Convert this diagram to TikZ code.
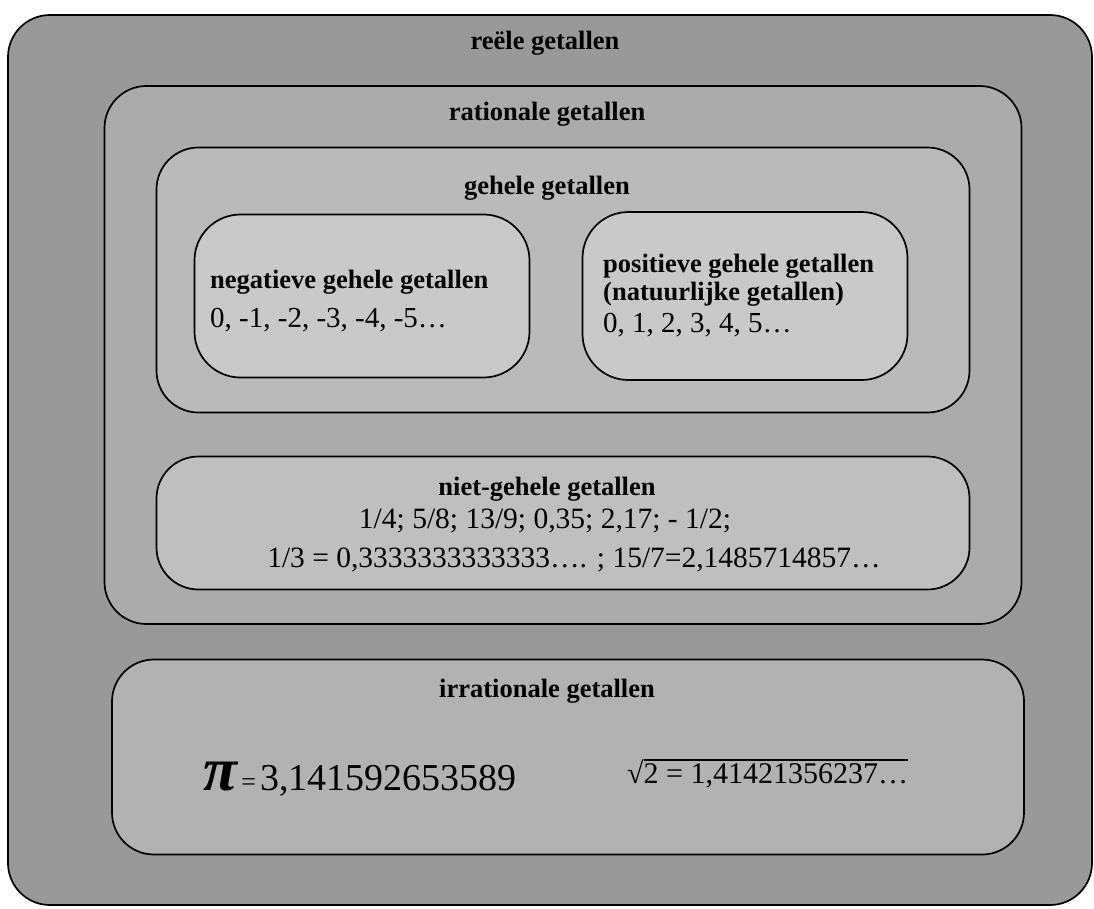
\documentclass[tikz,border=0pt]{standalone}
\usepackage{fontspec}
\setmainfont{Liberation Serif}
\usetikzlibrary{calc,positioning}

\definecolor{reeelgrijs}{gray}{0.60}
\definecolor{ratgrijs}{gray}{0.67}
\definecolor{geheelgrijs}{gray}{0.73}
\definecolor{binnengrijs}{gray}{0.79}
\definecolor{nietgrijs}{gray}{0.75}
\definecolor{irrgrijs}{gray}{0.70}

\begin{document}
\begin{tikzpicture}[x=1pt,y=-1pt,
    verzameling/.style={draw=black, line width=1.7pt, rounded corners=42pt, inner sep=0pt},
    kop/.style={anchor=base, inner sep=0pt, font=\fontsize{26.5}{30}\selectfont\bfseries},
    getal/.style={anchor=base, inner sep=0pt, font=\fontsize{29}{32}\selectfont}]

    \useasboundingbox (0,0) rectangle (1094,908);

    % de verzamelingen
    \node[verzameling, fill=reeelgrijs, minimum width=1084pt, minimum height=890pt] (reeel) at (550,460) {};
    \node[verzameling, fill=ratgrijs, minimum width=917pt, minimum height=538pt] (rationaal) at (563,355) {};
    \node[verzameling, fill=geheelgrijs, minimum width=813pt, minimum height=265pt] (geheel) at (563,280) {};
    \node[verzameling, fill=binnengrijs, minimum width=335pt, minimum height=163pt, rounded corners=46pt] (geheel-neg) at (362,296) {};
    \node[verzameling, fill=binnengrijs, minimum width=325pt, minimum height=168pt, rounded corners=46pt] (geheel-pos) at (745,296) {};
    \node[verzameling, fill=nietgrijs, minimum width=813pt, minimum height=133pt] (niet-geheel) at (563,523) {};
    \node[verzameling, fill=irrgrijs, minimum width=912pt, minimum height=195pt] (irrationaal) at (568,757) {};

    % de teksten
    \node[kop] (reeel-kop) at (545,49) {reële getallen};
    \node[kop] (rationaal-kop) at (547,120) {rationale getallen};
    \node[kop] (geheel-kop) at (547,194) {gehele getallen};

    \node[kop, anchor=base west] (neg-kop) at (210,288) {negatieve gehele getallen};
    \node[getal, anchor=base west] (neg-getal) at (210,327) {0, -1, -2, -3, -4, -5…};

    \node[kop, anchor=base west] (pos-kop) at (603,272) {positieve gehele getallen};
    \node[kop, anchor=base west] (pos-kop2) at (603,300) {(natuurlijke getallen)};
    \node[getal, anchor=base west] (pos-getal) at (603,332) {0, 1, 2, 3, 4, 5…};

    \node[kop] (niet-kop) at (547,495) {niet-gehele getallen};
    \node[getal, font=\fontsize{29.5}{32}\selectfont] (niet-getal) at (545,528) {1/4; 5/8; 13/9; 0,35; 2,17; - 1/2;};
    \node[getal, font=\fontsize{29.5}{32}\selectfont] (niet-getal2) at (574,567) {1/3 = 0,3333333333333…. ; 15/7=2,1485714857…};

    \node[kop] (irr-kop) at (547,697) {irrationale getallen};
    \node[getal, anchor=base west] (pi) at (203,790)
        {{\fontsize{62}{62}\selectfont\bfseries\itshape π}{\fontsize{26}{26}\selectfont\,=\,}{\rmfamily\fontsize{38}{40}\selectfont 3,141592653589}};
    \node[getal, anchor=base west, font=\fontsize{30}{32}\selectfont] (wortel) at (627,783)
        {√\vbox{\hrule height 1.2pt\kern 2.5pt\hbox{2 = 1,41421356237…}}};

\end{tikzpicture}
\end{document}
